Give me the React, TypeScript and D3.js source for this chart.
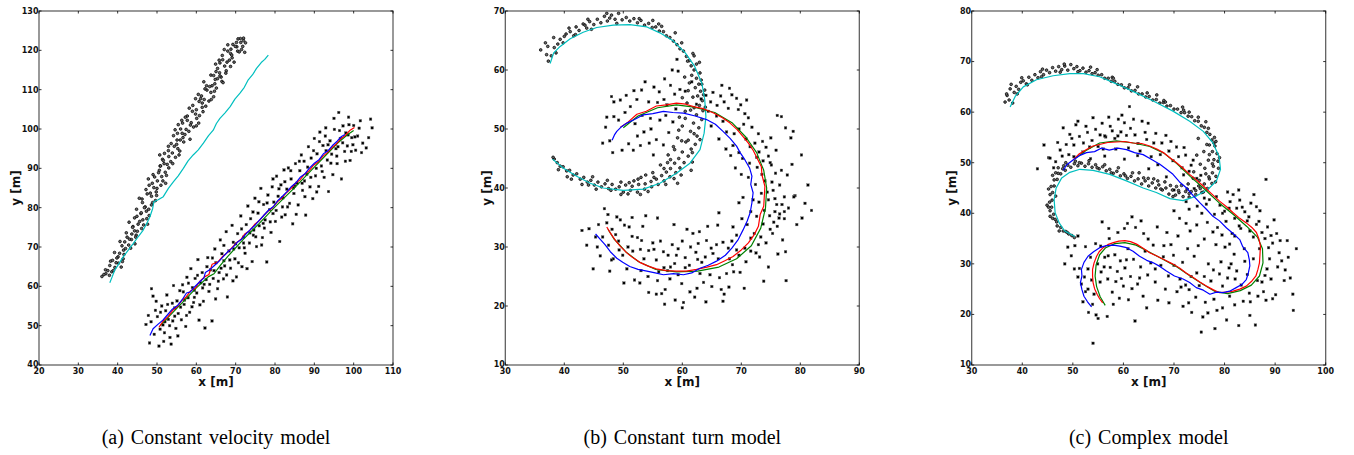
import React from "react";
import * as d3 from "d3";

type Pt = [number, number];

// ---------- panel (a): constant velocity ----------
const aTrack: Pt[] = [
  [36.0,62.5],[37.9,62.8],[37.0,63.2],[38.5,63.7],[36.9,64.2],[39.3,64.8],[38.0,65.3],[40.2,65.9],[38.2,66.4],[41.4,67.0],
  [40.1,67.5],[41.6,68.1],[39.2,68.6],[41.5,69.2],[43.3,69.7],[41.1,70.3],[44.4,70.8],[40.6,71.4],[43.5,71.9],[42.4,72.5],
  [44.7,73.0],[42.2,73.6],[44.3,74.1],[46.1,74.7],[43.9,75.2],[45.2,75.8],[42.9,76.3],[46.4,76.9],[44.3,77.4],[48.0,78.0],
  [45.9,78.5],[47.3,79.1],[44.8,79.6],[47.0,80.2],[48.6,80.7],[46.3,81.3],[49.6,81.8],[45.5,82.4],[48.6,82.9],[47.5,83.5],
  [49.8,84.0],[47.2,84.6],[49.2,85.1],[51.0,85.7],[48.8,86.2],[50.1,86.8],[47.8,87.3],[51.2,87.9],[49.0,88.4],[52.1,89.0],
  [50.6,89.5],[53.0,90.1],[50.8,90.6],[51.8,91.2],[53.5,91.7],[51.4,92.3],[54.7,92.8],[50.7,93.4],[53.9,93.9],[52.9,94.5],
  [55.3,95.0],[52.9,95.6],[55.0,96.1],[56.8,96.7],[55.1,97.2],[56.6,97.8],[54.2,98.3],[56.4,98.9],[58.1,99.4],[56.0,100.0],
  [59.3,100.5],[55.4,101.1],[58.7,101.6],[57.7,102.2],[60.1,102.7],[57.7,103.3],[59.8,103.8],[61.7,104.4],[60.0,104.9],[61.5,105.5],
  [59.1,106.0],[61.5,106.6],[63.2,107.1],[61.1,107.7],[64.4,108.2],[60.5,108.8],[63.7,109.3],[62.7,109.9],[65.1,110.4],[62.6,111.0],
  [64.7,111.5],[66.5,112.1],[64.8,112.6],[66.3,113.2],[63.7,113.7],[65.9,114.3],[67.6,114.8],[65.4,115.4],[68.7,115.9],[64.9,116.5],
  [67.8,117.0],[66.7,117.6],[69.1,118.1],[66.6,118.7],[68.7,119.2],[70.5,119.8],[68.8,120.3],[70.3,120.9],[68.0,121.4],[70.2,122.0],
  [72.0,122.5],[71.2,123.0],[72.3,119.5],[71.8,121.0],[72.0,123.1],
  [37.5,64.0],[39.8,67.2],[40.9,64.9],[42.0,69.6],[43.0,72.0],[44.6,72.5],[45.6,76.5],[47.4,77.2],[46.8,80.0],[48.3,83.7],
  [50.0,84.9],[49.4,87.8],[50.9,90.6],[52.4,88.2],[53.0,93.0],[54.4,95.6],[55.8,94.4],[55.2,98.9],[57.4,99.9],[58.4,97.4],
  [57.2,103.0],[59.0,104.5],[60.6,101.5],[60.7,107.0],[62.4,105.8],[62.2,110.2],[64.0,111.0],[63.8,107.5],[65.4,112.8],[66.8,111.8],
  [66.0,116.8],[67.5,114.2],[68.0,119.8],[69.6,117.0],[69.3,121.5],[70.9,119.6],[71.3,122.0],[43.8,75.0],[46.0,78.7],[51.6,92.0],
  [56.5,101.5],[61.3,108.4],[65.0,114.6],[41.8,71.3],[38.7,66.6],
  [36.5,63.0],[38.9,64.0],[39.6,66.0],[40.5,68.4],[41.2,66.3],[42.8,70.5],[43.6,73.3],[45.0,74.0],[44.9,77.8],[46.6,75.6],
  [47.9,79.6],[46.2,82.2],[48.9,81.3],[49.9,83.1],[48.0,85.7],[50.4,88.9],[51.5,86.8],[52.6,91.0],[51.9,93.8],[54.0,91.2],
  [53.6,96.3],[55.9,97.2],[54.6,99.8],[57.1,98.6],[58.5,101.0],[56.3,102.2],[58.2,105.3],[60.8,103.4],[59.8,107.7],[62.0,107.5],
  [61.9,112.0],[63.4,110.8],[64.6,109.6],[64.4,113.6],[66.0,113.5],[65.8,117.5],[67.2,116.0],[68.4,117.5],[67.1,120.2],[69.9,121.0],
  [70.6,122.9],[71.5,120.2],[72.5,121.9],[69.0,118.8],[60.0,100.8],[55.6,93.4],[52.2,86.2],[47.6,75.8],
];
const aMeas: Pt[] = [
  [47.2,50.3],[47.8,52.6],[48.1,45.6],[48.5,51.0],[48.6,59.4],[49.0,57.5],[49.3,47.8],[49.6,53.9],[50.1,52.3],[50.5,44.8],
  [50.8,49.1],[51.2,55.0],[51.5,50.2],[51.9,48.2],[52.2,53.8],[52.5,57.8],[52.9,51.6],[53.3,47.0],[53.6,45.3],[53.9,55.7],
  [54.2,60.2],[54.5,52.4],[54.8,49.3],[55.1,56.3],[55.4,53.1],[55.8,58.9],[56.2,51.5],[56.5,60.4],[56.9,55.4],[57.3,49.8],
  [57.6,62.3],[57.9,57.1],[58.3,53.4],[58.6,64.5],[59.0,59.7],[59.3,55.9],[59.7,62.0],[60.1,58.3],[60.4,66.8],[60.7,51.4],
  [61.1,60.9],[61.5,63.5],[61.8,56.2],[62.2,49.4],[62.5,61.7],[62.9,67.3],[63.2,58.7],[63.6,64.2],[64.0,51.2],[64.3,62.0],
  [64.7,69.5],[65.0,66.0],[65.4,59.4],[65.8,63.5],[66.1,71.8],[66.5,68.3],[66.9,61.9],[67.2,65.2],[67.6,73.9],[67.9,57.3],
  [68.3,69.0],[68.7,64.6],[69.1,75.5],[69.4,71.2],[69.8,67.0],[70.2,62.4],[70.5,73.4],[70.9,69.8],[71.3,77.9],[71.6,65.0],
  [72.0,72.5],[72.4,68.4],[72.7,75.7],[73.1,80.4],[73.5,71.0],[73.8,77.2],[74.2,66.3],[74.6,74.3],[74.9,82.4],[75.3,70.1],
  [75.7,78.6],[76.0,75.4],[76.4,84.9],[76.8,72.4],[77.1,80.8],[77.5,76.9],[77.9,66.2],[78.2,83.2],[78.6,79.5],[79.0,73.7],
  [79.3,85.3],[79.7,81.4],[80.1,76.5],[80.4,88.0],[80.8,82.9],[81.2,71.4],[81.5,85.8],[81.9,80.2],[82.3,89.6],[82.6,78.2],
  [83.0,84.7],[83.4,90.1],[83.7,81.1],[84.1,87.3],[84.5,75.9],[84.8,83.6],[85.2,91.2],[85.6,86.2],[85.9,80.7],[86.3,89.4],
  [86.7,93.4],[87.0,84.4],[87.4,91.8],[87.8,78.1],[88.1,88.5],[88.5,95.5],[88.9,85.3],[89.2,92.6],[89.6,82.3],[90.0,97.6],
  [90.3,88.1],[90.7,93.7],[91.1,85.4],[91.4,99.2],[91.8,90.6],[92.2,95.8],[92.5,87.7],[92.9,100.3],[93.3,92.1],[93.6,84.1],
  [94.0,97.0],[94.4,93.6],[94.7,88.4],[95.1,99.9],[95.5,95.0],[95.8,91.2],[96.2,104.2],[96.6,97.6],[96.9,87.3],[97.3,100.8],
  [97.7,94.3],[98.0,99.0],[98.4,95.7],[98.8,101.1],[99.1,92.0],[99.5,97.8],[100.0,100.9],[100.5,94.6],[101.0,98.2],[101.7,102.1],
  [102.3,96.4],[103.2,95.2],[103.8,97.8],[104.3,102.5],[104.7,100.3],[99.8,96.0],[98.6,98.5],[96.0,95.5],[93.0,94.5],[90.5,90.0],
  [87.5,86.8],[85.0,85.5],[82.0,82.5],[79.5,78.5],[77.0,76.0],[74.5,73.0],[72.0,71.0],[69.5,69.5],[67.0,66.5],[64.5,64.0],
  [62.0,60.5],[59.5,59.0],[57.0,56.5],[54.5,54.5],[52.0,51.0],
  [49.8,56.2],[50.9,53.4],[51.7,46.0],[52.7,55.4],[53.2,50.0],[54.0,51.2],[55.3,47.4],[56.0,54.7],[56.7,58.6],[57.5,52.6],
  [58.0,60.8],[58.9,54.8],[59.5,57.2],[60.3,62.8],[60.9,55.3],[61.6,59.6],[62.7,65.0],[63.4,60.5],[64.1,67.2],[64.9,56.8],
  [65.6,61.3],[66.3,64.6],[67.0,70.4],[67.7,62.9],[68.5,66.7],[69.3,61.4],[70.0,70.8],[70.7,66.0],[71.5,74.6],[72.2,69.8],
  [72.9,64.5],[73.6,73.6],[74.4,78.9],[75.1,72.6],[75.9,81.5],[76.6,70.5],[77.3,74.8],[78.0,81.2],[78.8,76.4],[79.5,87.3],
  [80.3,79.3],[81.0,84.8],[81.7,77.6],[82.5,86.6],[83.2,80.2],[84.0,89.4],[84.7,85.0],[85.4,78.3],[86.2,91.8],[86.9,86.2],
  [87.6,82.8],[88.3,90.3],[89.1,87.7],[89.8,94.5],[90.6,84.0],[91.3,96.8],[92.0,89.2],[92.8,98.2],[93.5,96.0],[94.2,91.3],
  [95.0,102.7],[95.7,93.1],[96.4,99.6],[97.2,96.5],[97.9,91.8],[98.7,103.0],[99.4,94.3],[100.3,98.0],[101.4,100.2],[102.0,94.0],
];
const aCyan: Pt[] = [
  [38.0,60.9],[38.6,62.4],[39.3,64.2],[40.3,65.7],[41.4,67.5],[42.6,69.1],[44.0,70.9],[45.2,72.6],[46.5,74.3],[47.4,76.0],
  [48.2,77.7],[48.9,79.8],[49.2,81.5],[50.3,82.0],[51.6,82.8],[52.9,84.9],[54.2,86.6],[55.4,88.1],[56.7,90.0],[57.9,91.9],
  [59.2,93.4],[60.5,94.7],[61.8,96.4],[63.1,98.3],[64.3,99.7],[65.1,101.4],[66.0,102.7],[67.3,104.1],[68.6,105.7],[69.8,107.6],
  [71.1,109.1],[72.2,110.6],[73.2,112.5],[74.3,113.8],[75.3,115.4],[76.5,116.9],[77.4,117.7],[78.3,118.8],
];
const aBlue: Pt[] = [
  [48.2,47.5],[49.0,49.2],[50.3,50.4],[51.5,51.4],[52.8,52.9],[53.9,54.2],[55.2,55.1],[56.4,56.6],[57.5,58.3],[58.5,58.6],
  [59.6,59.9],[60.8,61.1],[61.9,62.1],[62.3,63.5],[63.5,64.3],[64.6,65.3],[65.8,66.4],[66.9,67.6],[68.0,68.8],[69.3,69.9],
  [70.5,71.3],[71.4,71.9],[72.6,73.3],[73.8,74.5],[75.0,75.6],[76.1,76.9],[77.3,78.2],[78.4,79.4],[79.6,80.3],[80.7,81.8],
  [81.9,82.9],[83.0,84.0],[84.2,85.4],[85.4,86.4],[86.5,87.8],[87.7,88.7],[88.8,90.1],[90.0,91.3],[91.2,92.2],[92.3,93.7],
  [93.5,94.5],[94.6,95.8],[95.8,96.9],[96.9,98.1],[97.8,98.6],
];
const aRed: Pt[] = [
  [50.5,49.6],[51.6,51.2],[52.8,52.3],[54.0,53.9],[55.1,54.8],[56.3,56.4],[57.4,57.3],[58.6,58.9],[59.8,59.6],[60.9,61.3],
  [62.1,62.4],[63.2,63.0],[64.0,65.6],[65.5,66.2],[66.6,67.5],[67.8,68.5],[69.0,69.8],[70.1,71.0],[71.3,71.9],[72.4,73.4],
  [73.6,74.2],[74.8,75.7],[75.9,76.6],[77.1,78.0],[78.2,79.1],[79.4,80.0],[80.6,81.5],[81.7,82.4],[82.9,83.8],[84.0,84.8],
  [85.2,86.2],[86.4,87.1],[87.5,88.5],[88.7,89.4],[89.8,90.8],[91.0,91.7],[92.2,93.1],[93.3,94.0],[94.5,95.3],[95.6,96.2],
  [96.8,97.6],[98.0,98.5],[99.1,99.7],[100.2,100.4],
];
const aGreen: Pt[] = [
  [50.8,50.0],[56.0,55.4],[60.0,59.6],[63.0,62.4],[64.5,63.2],[66.0,65.2],[68.0,67.6],[72.0,72.0],[76.0,76.0],[80.0,80.2],
  [85.0,85.1],[90.0,90.3],[96.0,96.5],[98.5,98.6],[100.0,99.6],
];

// ---------- panel (b): constant turn ----------
const bTrack: Pt[] = [
  [36.0,63.4],[37.0,62.6],[37.3,61.5],[37.8,62.4],[38.3,63.8],[38.9,64.4],[38.6,62.9],[39.3,65.2],[39.8,64.6],[40.3,66.1],
  [41.0,66.5],[41.6,65.8],[42.0,67.3],[42.5,66.7],[43.2,67.8],[43.8,67.1],[44.3,68.2],[45.0,67.7],[45.6,68.6],[46.2,68.0],
  [46.8,69.1],[47.3,68.3],[48.0,69.3],[48.6,68.6],[49.2,69.6],[49.8,68.5],[50.5,68.9],[51.1,68.3],[51.8,68.7],[52.4,68.0],
  [53.0,68.4],[53.6,67.6],[54.3,67.9],[54.9,67.2],[55.5,67.3],[56.1,66.6],[56.8,66.5],[57.3,65.8],[57.9,65.5],[58.5,64.9],
  [59.1,64.3],[59.6,63.6],[60.2,63.2],[60.7,62.3],[61.2,61.6],[61.5,60.7],[62.0,60.0],[61.6,59.1],[62.4,58.6],[62.8,57.6],
  [62.2,57.0],[63.1,56.4],[62.6,55.6],[63.4,54.8],[62.9,54.0],[61.8,55.4],[63.5,53.1],[62.4,52.4],[63.3,51.6],[61.9,51.0],
  [62.8,50.2],[61.4,49.6],[62.5,48.8],[61.0,48.1],[62.2,47.4],[60.6,47.8],[61.5,46.6],[60.0,46.1],[61.0,45.4],[59.4,45.0],
  [60.3,44.3],[58.7,44.2],[59.6,43.4],[58.0,43.3],[58.9,42.6],[57.3,42.7],[57.9,41.9],[56.5,42.1],[56.9,41.2],[55.6,41.5],
  [55.9,40.6],[54.7,41.1],[54.8,40.2],[53.7,40.7],[53.6,39.8],[52.6,40.6],[52.4,39.3],[51.5,40.3],[51.2,39.6],[50.4,40.5],
  [50.0,39.3],[49.3,40.2],[48.7,39.8],[48.1,40.6],[47.5,39.9],[46.9,40.7],[46.3,40.2],[45.7,41.0],[45.1,40.5],[44.5,41.3],
  [43.9,41.0],[43.3,41.8],[42.7,41.5],[42.1,42.4],[41.5,42.2],[40.9,43.0],[40.4,42.9],[39.8,43.6],[39.3,43.7],[38.8,44.3],
  [38.3,44.9],[38.1,45.2],[58.5,47.0],[59.2,48.5],[57.6,45.6],[60.0,50.5],[60.5,53.0],[59.5,52.0],[61.0,56.5],[60.4,58.8],
  [61.2,57.8],[58.0,44.8],[56.3,43.9],[55.0,42.6],[53.8,42.2],[52.5,41.5],[60.9,61.5],[62.0,62.4],[63.0,59.5],[63.3,57.6],
  [50.8,39.0],[52.9,38.9],[49.6,41.0],[44.8,41.9],[41.9,66.0],[44.6,66.9],[48.9,67.9],
  [60.0,55.3],[60.8,54.4],[59.4,49.8],[60.5,51.8],[58.7,46.5],[59.9,48.0],[57.5,44.3],[61.4,53.2],[62.0,49.2],[61.7,44.4],
  [63.8,56.6],[63.9,53.7],[62.9,61.3],[61.8,62.8],[63.2,58.3],[55.0,68.4],[56.5,67.4],[58.8,66.3],[47.2,69.6],[44.0,68.6],
  [40.8,67.1],[38.2,65.5],[36.8,64.6],[53.0,41.8],[51.8,41.2],[49.6,38.9],[47.3,41.3],[45.4,39.8],[43.0,40.6],[40.5,41.9],
  [56.9,43.3],[54.2,39.4],[58.6,41.6],[61.5,43.0],[59.2,40.8],
  [37.2,64.0],[40.0,65.7],[43.5,67.6],[47.7,68.8],[52.7,68.7],[56.0,67.8],[59.9,64.6],[62.4,61.0],[63.6,55.8],[62.0,53.6],
  [63.0,48.2],[61.7,46.0],[59.8,42.2],[57.2,40.6],[55.2,41.8],[51.0,40.9],[47.9,39.6],[44.1,40.5],[41.2,41.5],[39.0,43.1],
];
const bMeas: Pt[] = [
  [48.0,55.5],[48.4,54.6],[49.5,54.9],[50.5,55.7],[51.8,56.5],[52.3,55.0],[53.1,56.6],[53.7,58.0],[54.3,54.6],[55.2,57.1],
  [56.1,56.3],[55.8,54.5],[56.9,55.0],[57.4,54.1],[48.4,52.1],[47.7,48.0],[48.2,46.0],[49.2,51.5],[50.9,47.5],[51.7,46.4],
  [52.4,48.8],[53.5,49.5],[54.4,47.6],[55.6,48.2],[56.8,47.3],[57.7,49.4],[58.4,51.2],[56.2,51.5],[54.6,51.8],[53.2,52.3],
  [52.0,50.9],[50.3,52.8],[46.5,47.6],[47.2,52.0],[58.9,53.4],[59.6,56.7],[58.0,57.4],[57.0,58.5],[59.3,59.8],[58.3,60.0],
  [59.1,61.8],[63.2,55.1],[64.0,55.7],[64.8,54.6],[65.2,56.2],[66.5,55.6],[67.1,54.6],[67.8,53.5],[68.4,55.8],[69.2,55.2],
  [69.9,54.1],[70.6,52.6],[71.2,51.9],[70.4,50.8],[69.6,50.0],[68.8,49.2],[67.5,49.5],[66.9,51.3],[65.8,52.2],[64.9,50.5],
  [66.2,48.3],[67.4,46.6],[68.6,47.2],[69.6,46.0],[70.8,48.3],[71.5,47.0],[72.3,47.6],[73.0,46.1],[72.6,45.2],[73.7,44.6],
  [74.2,46.9],[75.0,48.5],[76.1,52.3],[76.8,52.1],[77.5,50.2],[78.4,48.5],[78.8,49.6],[80.2,45.6],[74.6,45.4],[70.2,45.0],
  [71.4,44.2],[72.7,43.5],[73.5,42.3],[74.0,41.2],[75.1,43.9],[75.8,42.5],[76.5,40.5],[75.4,39.6],[74.6,38.0],[73.4,39.1],
  [72.4,40.6],[71.2,41.8],[70.3,38.4],[69.6,37.5],[71.6,36.0],[72.6,35.2],[73.9,36.2],[74.8,35.3],[75.7,36.0],[76.4,34.9],
  [77.3,36.0],[76.1,33.5],[77.3,34.8],[75.3,32.3],[74.2,30.7],[73.3,31.7],[72.2,32.3],[71.0,33.8],[70.1,34.8],[69.2,32.0],
  [68.6,33.4],[70.6,29.8],[71.6,29.3],[72.5,29.0],[73.1,28.3],[77.5,29.2],[77.6,24.3],[79.1,38.7],[78.9,38.5],[81.3,40.5],
  [81.9,36.2],[80.8,37.4],[77.3,38.5],[76.0,37.2],[72.0,38.0],[70.0,42.3],[69.0,43.4],[68.2,45.5],[44.9,26.3],[45.6,30.0],
  [46.5,31.7],[47.2,34.1],[48.1,33.0],[48.9,35.1],[49.5,34.6],[50.2,33.7],[51.0,33.4],[49.2,31.0],[48.3,28.0],[48.0,27.8],
  [49.9,28.6],[50.8,30.0],[51.6,29.3],[51.9,24.4],[52.4,31.6],[53.1,31.1],[53.5,28.0],[52.8,23.9],[54.3,29.4],[55.0,30.7],
  [55.6,27.8],[56.3,31.0],[56.8,29.2],[56.5,22.1],[57.1,22.8],[57.6,28.6],[58.3,30.4],[58.0,26.6],[58.7,27.2],[59.3,29.7],
  [59.9,23.8],[60.2,20.6],[60.0,19.7],[60.5,28.2],[61.2,26.9],[61.8,32.3],[62.3,29.1],[62.7,30.6],[63.3,27.4],[63.6,24.0],
  [64.1,31.1],[64.7,25.3],[64.0,20.7],[65.2,28.9],[65.8,30.4],[66.3,24.8],[66.6,22.8],[67.1,22.0],[67.5,25.5],[68.0,28.0],
  [68.5,27.0],[69.2,29.5],[69.8,25.7],[67.8,29.8],[66.9,30.8],[62.9,32.6],[60.8,33.0],[58.6,33.8],[55.8,34.9],[53.8,35.3],
  [51.5,35.0],[46.8,36.5],[44.2,33.1],[43.0,32.8],[43.8,30.3],[45.3,31.7],[47.7,25.9],[50.1,23.9],[54.3,22.3],[55.6,22.0],
  [61.3,22.4],[62.5,23.0],[58.8,21.0],[64.3,33.5],[66.0,33.7],[65.0,23.3],[63.0,25.5],[56.0,25.8],[57.5,26.0],[59.3,25.3],
  [60.5,26.5],[53.0,26.0],[55.8,24.3],
  [47.0,50.3],[49.8,46.4],[51.2,53.8],[52.9,47.2],[54.7,50.0],[55.1,45.6],[57.2,52.3],[58.7,55.9],[60.5,56.4],[61.6,58.0],
  [62.4,54.2],[64.4,53.0],[65.9,54.0],[66.7,57.4],[68.0,56.9],[69.5,53.3],[70.9,54.9],[71.8,50.3],[72.9,49.2],[73.6,47.9],
  [74.9,44.3],[75.9,46.4],[76.8,43.0],[77.8,42.2],[78.6,44.0],[75.2,41.0],[74.4,39.3],[73.0,37.6],[75.7,38.2],[76.9,37.2],
  [78.0,36.6],[76.5,35.6],[75.5,34.2],[74.9,33.0],[73.7,33.9],[72.9,30.4],[71.6,31.5],[70.8,27.5],[69.6,28.6],[68.7,25.8],
  [67.9,23.2],[66.1,28.0],[64.9,29.8],[63.9,28.3],[62.6,27.9],[61.4,30.0],[60.0,31.0],[59.0,28.6],[57.9,24.6],[56.9,26.5],
  [55.2,29.6],[54.2,25.0],[52.9,29.6],[51.5,31.8],[50.6,26.3],[49.3,29.5],[48.7,32.1],[47.5,30.3],[46.1,28.5],[45.8,33.8],
  [47.4,35.5],[53.3,33.5],[66.2,35.8],[68.4,31.0],[79.4,33.8],[80.3,34.9],[77.0,31.2],[76.2,28.8],[74.6,26.6],[73.8,24.2],
  [70.5,23.0],[66.9,20.8],[62.1,21.5],[57.0,20.3],
];
const bCyan: Pt[] = [
  [37.6,61.1],[38.2,62.9],[39.3,64.0],[41.0,65.3],[43.2,66.4],[45.5,67.2],[48.3,67.6],[51.1,67.7],[54.0,67.3],[56.2,66.3],
  [58.5,64.9],[60.5,62.9],[62.1,60.6],[63.3,57.8],[63.8,55.0],[64.0,52.1],[63.7,49.3],[63.0,46.5],[61.3,44.2],[59.0,42.5],
  [56.2,40.8],[53.4,39.8],[50.0,39.6],[46.6,40.0],[44.4,40.8],[42.1,42.0],[39.8,43.4],[38.0,44.9],
];
const bBlue: Pt[] = [
  [48.1,48.1],[48.5,49.0],[48.9,49.6],[49.7,50.4],[50.6,51.0],[51.9,51.6],[53.4,52.4],[55.0,52.6],[56.8,53.0],[58.4,52.8],
  [60.2,52.7],[62.2,52.2],[64.1,51.6],[65.6,50.8],[66.9,49.6],[68.1,48.4],[69.2,47.1],[69.8,46.0],[70.6,44.8],[71.4,43.4],
  [71.8,42.0],[71.6,40.6],[72.0,39.2],[71.8,37.5],[71.5,35.8],[71.0,34.4],[70.3,32.9],[69.5,31.3],[68.4,29.8],[67.3,28.6],
  [65.8,27.6],[64.4,26.9],[63.0,26.4],[61.6,25.6],[60.2,25.3],[58.5,25.5],[56.8,25.3],[55.4,25.6],[54.0,25.9],[52.5,26.2],
  [51.1,26.7],[49.9,27.4],[48.9,28.1],[47.8,29.2],[46.9,30.4],[46.1,31.3],[45.3,32.2],
];
const bRed: Pt[] = [
  [49.5,50.3],[50.6,51.0],[52.3,52.5],[53.9,53.0],[55.6,53.9],[57.3,54.1],[59.0,54.4],[60.6,54.2],[61.9,53.8],[63.7,53.4],
  [65.3,52.7],[66.8,51.9],[68.1,51.0],[69.3,49.9],[70.3,48.7],[71.2,47.6],[72.0,46.4],[72.6,45.2],[73.4,43.6],[73.5,42.2],
  [74.0,40.3],[73.9,38.6],[73.8,36.9],[73.2,35.5],[72.9,33.5],[72.2,32.1],[71.2,30.7],[70.0,29.5],[68.6,28.4],[67.3,27.7],
  [65.8,27.0],[64.2,26.6],[62.4,26.2],[60.7,25.9],[59.0,25.9],[57.3,26.0],[55.6,26.3],[54.1,26.8],[52.8,27.4],[51.6,28.2],
  [50.6,29.0],[49.5,30.1],[48.6,31.2],[47.8,32.4],[47.2,33.4],
];
const bGreen: Pt[] = [
  [50.0,50.2],[52.5,52.2],[55.8,53.6],[59.0,54.1],[62.0,53.7],[65.5,52.8],[68.5,51.0],[70.8,48.6],[72.6,46.0],[73.8,43.0],
  [74.3,40.0],[74.1,36.6],[73.3,33.2],[71.7,30.2],[69.2,28.0],[66.2,26.6],[62.6,25.9],[59.0,25.8],[55.5,26.2],[52.6,27.5],
  [50.4,29.2],[48.4,31.4],[47.4,33.0],
];

// ---------- panel (c): complex ----------
const cTrack: Pt[] = [
  [36.6,62.0],[37.0,63.3],[37.4,62.4],[37.6,64.6],[38.1,61.8],[38.4,63.9],[38.8,65.1],[39.3,64.5],[39.7,65.9],[40.2,66.2],
  [40.8,65.6],[41.3,66.9],[41.9,66.3],[42.5,67.4],[43.1,66.8],[43.6,68.0],[44.2,67.4],[44.8,68.3],[45.4,67.8],[46.0,68.8],
  [46.6,68.1],[47.2,69.0],[47.8,68.4],[48.4,69.1],[49.0,68.3],[49.6,69.4],[50.2,68.6],[50.8,69.0],[51.4,68.2],[52.0,68.7],
  [52.6,67.9],[53.2,68.2],[53.8,67.6],[54.4,67.8],[55.0,67.3],[55.7,67.4],[56.3,66.7],[57.0,66.7],[57.6,66.1],[58.3,66.1],
  [58.9,65.5],[59.6,65.4],[60.2,64.8],[60.9,64.8],[61.6,64.2],[62.3,64.3],[63.0,63.6],[63.7,63.6],[64.4,63.0],[65.1,63.1],
  [65.8,62.4],[66.5,62.5],[67.2,61.8],[67.9,61.9],[68.6,61.2],[69.3,61.3],[70.0,60.6],[70.7,60.6],[71.4,59.9],[72.1,59.9],
  [72.8,59.2],[73.5,59.1],[74.1,58.3],[74.8,58.2],[75.4,57.3],[76.0,57.0],[76.5,56.0],[77.1,55.6],[77.5,54.5],[77.0,53.5],
  [78.1,53.3],[77.6,52.2],[78.5,51.8],[77.9,50.6],[78.7,50.3],[77.8,49.3],[78.8,48.9],[77.6,48.0],[78.3,47.3],[77.0,46.8],
  [77.5,45.9],[76.0,45.8],[76.6,44.9],[75.2,44.9],[75.5,44.1],[74.3,44.5],[74.3,43.7],[73.4,44.3],[73.0,43.2],[72.3,44.3],
  [71.8,43.3],[71.0,44.1],[70.3,43.6],[69.7,44.6],[69.0,43.8],[68.4,45.0],[67.7,44.6],[67.0,45.6],[66.4,45.0],[65.7,46.0],
  [65.0,45.4],[64.3,46.4],[63.6,45.8],[62.9,46.8],[62.2,46.4],[61.5,47.3],[60.8,46.9],[60.1,47.8],[59.4,47.4],[58.7,48.3],
  [58.0,47.9],[57.3,48.7],[56.6,48.4],[55.9,49.2],[55.2,48.8],[54.5,49.6],[53.8,49.1],[53.1,49.8],[52.4,49.3],[51.7,49.9],
  [51.0,49.4],[50.3,49.8],[49.6,49.1],[49.0,49.5],[48.5,48.5],[48.0,48.8],[47.6,47.8],[47.1,47.9],[46.9,46.7],[46.3,46.6],
  [46.3,45.4],[45.7,45.3],[46.0,44.1],[45.5,43.7],[45.9,42.6],[45.4,42.2],[45.8,41.2],[45.5,40.5],[46.2,39.8],[46.0,39.0],
  [46.8,38.3],[46.9,37.5],[47.6,37.2],[48.1,36.5],[48.6,36.4],[49.2,35.9],[49.8,35.6],[50.3,35.2],[75.0,46.5],[76.3,47.8],
  [76.8,50.5],[75.9,52.2],[76.5,53.6],[74.8,54.8],[73.9,48.2],[75.2,49.7],[74.5,51.5],[71.5,45.5],[72.8,45.8],[73.8,46.9],
  [68.2,46.2],[70.5,45.3],[66.0,46.8],[63.1,48.0],
  [78.0,55.0],[77.9,53.9],[77.0,51.6],[77.6,49.8],[76.1,48.9],[76.9,47.2],[74.9,45.4],[72.6,44.8],[70.9,44.5],[69.3,45.5],
  [66.8,46.4],[64.9,46.9],[61.8,48.0],[59.0,49.0],[56.3,49.6],[53.2,50.4],[50.5,50.3],[48.6,50.0],[47.1,49.0],[46.0,47.5],
  [45.2,44.8],[44.9,41.6],[45.5,39.4],[47.3,36.5],[76.3,58.1],[73.0,60.0],[68.0,62.3],[62.8,65.0],[57.8,66.9],[53.5,68.9],
  [48.3,69.5],[44.0,68.5],[39.9,66.8],[37.8,65.5],[36.9,63.6],[71.7,61.0],[66.6,63.4],
  [39.0,63.6],[41.0,65.4],[43.8,67.0],[47.5,67.9],[51.0,68.0],[54.8,68.4],[58.0,66.7],[61.2,65.4],[64.7,63.8],[68.3,62.0],
  [71.9,60.4],[74.8,59.0],[76.8,56.8],[78.3,54.2],[79.0,51.0],[78.2,46.2],[75.8,44.2],[73.0,43.9],[69.8,43.3],[67.4,44.8],
  [64.0,47.0],[60.4,47.4],[57.6,48.0],[54.8,49.0],[51.3,50.0],[48.2,49.4],[46.6,48.0],[46.6,43.4],[45.2,41.2],[46.5,38.8],
  [48.9,36.2],
];
const cMeas: Pt[] = [
  [43.0,48.8],[45.2,51.0],[45.5,50.9],[47.5,52.5],[48.1,56.9],[49.4,55.6],[50.2,53.5],[50.6,57.5],[51.3,55.2],[52.1,53.9],
  [52.9,56.0],[52.0,52.1],[53.8,54.4],[54.5,56.6],[55.0,53.2],[55.8,57.8],[56.5,55.1],[57.1,59.0],[57.8,56.3],[58.3,54.8],
  [59.0,58.6],[59.5,56.1],[60.2,57.9],[60.6,55.4],[61.0,52.9],[62.3,55.5],[62.9,53.8],[63.7,58.2],[64.9,57.8],[64.3,56.0],
  [61.2,61.1],[56.3,55.3],[49.2,51.6],[47.0,54.0],[50.2,51.2],[53.5,50.8],[56.3,51.3],[58.5,52.7],[60.2,50.7],[62.8,51.4],
  [65.5,51.2],[46.6,50.2],[48.7,53.6],[66.0,53.9],[67.3,51.6],[68.4,55.4],[69.0,52.3],[69.8,50.4],[70.5,53.1],[71.6,49.0],
  [72.3,51.5],[71.9,47.6],[73.0,48.3],[73.8,50.5],[74.5,46.9],[75.3,47.5],[66.8,49.6],[65.0,48.8],[68.5,47.2],[70.0,44.6],
  [72.4,42.3],[73.0,40.8],[74.6,41.4],[75.5,40.0],[76.4,41.8],[77.0,42.7],[78.0,39.8],[79.1,41.6],[80.0,40.4],[81.1,42.3],
  [81.7,43.7],[82.4,41.0],[83.0,42.6],[84.0,40.3],[85.2,42.0],[85.8,43.7],[86.3,41.3],[88.2,46.7],[80.6,44.2],[82.8,44.6],
  [80.3,38.4],[78.6,37.2],[77.7,36.3],[76.6,38.2],[74.5,37.7],[73.2,36.5],[72.4,38.0],[71.1,39.0],[70.0,40.5],[79.5,35.7],
  [81.0,33.9],[82.0,35.5],[83.2,37.0],[84.5,38.5],[85.7,35.3],[86.3,37.8],[87.4,36.2],[88.0,35.0],[88.7,33.2],[89.5,34.1],
  [89.8,38.7],[90.3,36.0],[91.0,34.6],[92.4,34.6],[94.2,33.0],[92.6,31.3],[93.0,27.2],[93.5,24.0],[91.3,30.6],[90.5,29.4],
  [89.2,27.0],[88.4,29.0],[87.7,24.5],[88.2,22.8],[89.5,23.1],[93.6,20.8],[91.8,26.7],[90.1,23.9],[51.7,26.0],[51.3,29.1],
  [52.3,27.4],[52.0,22.5],[53.0,25.0],[53.1,20.4],[53.7,26.8],[54.2,24.0],[54.6,19.9],[55.0,19.2],[54.0,14.3],[54.9,30.0],
  [55.6,28.4],[56.3,31.3],[56.9,27.0],[57.4,29.3],[57.8,24.4],[58.3,31.8],[58.8,28.5],[59.4,30.6],[58.0,22.0],[60.0,25.6],
  [60.3,29.2],[60.9,33.0],[61.4,27.5],[62.0,30.9],[62.3,18.7],[62.8,26.0],[63.4,29.4],[63.9,23.6],[64.3,32.5],[64.8,27.8],
  [65.4,30.2],[65.9,33.7],[66.3,26.4],[66.8,22.8],[67.4,29.7],[67.9,31.4],[68.3,25.0],[68.9,27.6],[69.4,33.8],[70.0,29.7],
  [70.6,24.5],[71.2,27.0],[71.7,30.3],[72.3,25.8],[72.9,22.3],[73.4,27.5],[74.0,31.5],[74.5,28.2],[75.0,25.7],[75.4,16.5],
  [75.7,19.5],[76.2,22.4],[76.8,30.0],[77.3,26.6],[77.9,23.0],[78.1,17.2],[78.5,20.8],[79.0,28.0],[79.6,25.6],[80.1,33.3],
  [80.6,27.2],[81.3,30.0],[82.0,21.9],[82.4,28.6],[82.8,17.8],[83.3,25.8],[83.9,33.0],[84.5,27.9],[85.0,19.8],[85.1,22.5],
  [86.1,17.9],[86.5,26.7],[85.7,31.0],[82.9,37.5],[81.5,36.0],[78.3,33.8],[76.0,34.9],[74.8,33.6],[72.7,33.0],[70.8,35.5],
  [68.6,36.2],[66.7,37.3],[64.0,36.0],[62.4,37.2],[60.2,37.0],[58.9,36.2],[57.2,35.0],[55.5,33.5],[54.5,34.0],[53.5,31.3],
  [52.5,33.4],[51.0,35.5],[61.7,39.3],[60.8,38.0],[63.5,38.5],[55.8,38.3],[57.1,37.0],[49.7,31.6],[48.4,30.0],[50.3,29.0],
  [49.0,33.3],[79.6,21.3],[81.0,23.6],[73.5,20.4],
  [44.3,53.5],[46.2,49.0],[47.9,51.3],[49.8,54.8],[51.0,58.2],[52.6,57.2],[53.3,53.1],[54.0,58.9],[55.4,55.5],[56.0,52.7],
  [57.4,57.2],[58.9,55.3],[59.7,59.4],[61.4,56.8],[62.0,58.6],[63.3,52.3],[64.6,54.6],[66.4,55.8],[67.6,53.9],[69.4,54.2],
  [70.9,51.2],[72.0,53.0],[73.4,49.5],[74.0,44.9],[76.0,43.0],[78.4,43.3],[79.6,40.0],[80.9,41.0],[82.0,39.0],[83.5,41.2],
  [84.8,39.3],[85.0,36.5],[86.8,38.4],[87.0,40.5],[88.5,37.3],[89.2,35.6],[88.9,31.0],[88.0,27.7],[87.4,26.4],[86.6,23.6],
  [84.9,24.2],[83.7,22.6],[82.1,27.0],[80.9,29.2],[79.3,30.4],[77.8,28.8],[76.0,27.5],[74.3,23.4],[73.0,24.9],[71.4,25.4],
  [69.9,31.7],[68.0,33.6],[66.3,29.0],[64.9,34.9],[63.2,27.2],[61.7,25.1],[60.6,30.8],[59.6,27.1],[58.5,26.5],[57.0,31.6],
  [56.2,29.4],[55.4,26.4],[53.0,29.0],[52.5,24.5],[51.0,27.4],[50.4,33.6],[53.9,22.0],[56.8,19.6],[59.2,23.2],[61.0,22.9],
  [64.6,21.3],[69.0,22.3],[71.8,21.6],[76.7,20.3],[80.4,18.9],[84.0,30.5],[90.8,32.2],[92.0,28.8],[86.9,33.0],[81.9,31.9],
];
const cCyan: Pt[] = [
  [37.6,61.0],[38.6,63.1],[40.2,65.0],[42.8,66.4],[46.1,67.2],[49.4,67.6],[52.1,67.6],[55.3,67.0],[58.6,65.6],[61.9,64.1],
  [65.9,62.2],[69.8,60.2],[73.1,58.2],[75.8,56.2],[77.7,53.9],[78.9,51.3],[79.2,48.7],[78.4,46.4],[76.7,44.7],[74.4,43.4],
  [71.8,42.5],[69.2,42.9],[66.5,44.1],[63.9,45.0],[60.6,46.4],[57.3,47.7],[54.0,48.5],[51.4,48.7],[49.4,48.1],[47.8,47.0],
  [46.7,45.0],[46.3,42.7],[46.5,40.1],[47.3,38.1],[48.4,36.5],[50.4,35.4],
];
const cBlue: Pt[] = [
  [48.1,48.5],[48.8,49.6],[50.1,50.6],[51.3,51.4],[52.7,52.0],[54.3,52.2],[55.7,52.9],[57.2,52.5],[58.9,52.9],[60.6,52.6],
  [62.2,52.0],[63.9,51.6],[65.5,50.7],[67.2,49.7],[68.4,48.8],[69.8,47.7],[71.1,46.2],[72.5,45.0],[73.8,43.5],[75.1,42.1],
  [76.5,40.7],[77.7,39.4],[79.0,38.5],[80.4,37.1],[81.8,35.9],[83.0,34.8],[83.6,33.4],[84.6,32.2],[84.9,30.8],[85.0,29.6],
  [84.7,28.2],[84.3,26.9],[83.4,25.9],[82.3,25.3],[81.0,24.6],[79.7,24.3],[78.4,24.4],[77.1,24.0],[75.8,24.8],[74.4,25.3],
  [73.1,26.3],[71.8,27.0],[70.1,27.6],[68.5,28.6],[67.2,29.5],[65.9,30.2],[64.6,30.7],[63.2,31.5],[61.9,32.5],[60.6,33.2],
  [59.3,33.5],[58.0,33.7],[56.6,33.6],[55.3,33.2],[54.1,32.4],[53.0,31.5],[52.2,30.3],[51.7,28.9],[51.8,27.6],[51.5,26.3],
  [51.8,24.9],[52.2,23.6],[52.9,22.5],[53.7,21.5],
];
const cRed: Pt[] = [
  [50.1,50.6],[51.2,51.7],[52.7,52.6],[54.0,53.3],[55.3,53.6],[56.9,54.0],[58.6,54.1],[60.3,54.2],[61.9,53.9],[63.6,53.8],
  [65.2,53.3],[66.6,52.7],[67.9,52.0],[69.2,51.0],[70.5,50.0],[71.8,48.9],[73.1,47.7],[74.5,46.5],[75.8,45.4],[77.4,43.9],
  [79.0,42.4],[80.4,41.3],[81.7,40.1],[83.0,39.0],[84.3,38.1],[85.4,37.2],[86.3,36.2],[86.8,34.9],[87.1,33.5],[87.0,31.8],
  [86.9,30.2],[86.6,28.9],[86.2,27.6],[85.3,26.5],[84.3,25.6],[83.0,25.0],[81.7,24.6],[80.3,24.4],[79.0,24.3],[77.7,24.9],
  [76.4,25.6],[75.1,26.4],[73.8,27.3],[72.4,28.2],[71.1,29.2],[69.5,30.1],[67.9,30.9],[66.5,31.6],[65.2,32.2],[63.9,33.1],
  [62.6,33.9],[61.4,34.4],[60.3,34.6],[59.1,34.5],[58.0,34.2],[56.9,33.8],[56.0,33.2],[55.2,32.4],[54.7,31.5],[54.2,30.2],
  [53.9,28.9],[53.9,27.6],[54.0,26.3],[54.3,25.1],[54.8,24.0],[55.3,23.1],[55.9,22.3],
];
const cGreen: Pt[] = [
  [50.4,50.8],[52.6,52.4],[55.3,53.9],[58.6,54.3],[62.0,53.9],[65.2,53.2],[68.0,51.9],[70.6,49.8],[73.2,47.3],[75.8,45.0],
  [79.0,42.0],[81.8,39.7],[84.4,37.4],[86.5,35.3],[87.5,33.0],[87.6,30.2],[86.9,27.6],[85.3,25.8],[83.1,24.7],[80.6,24.1],
  [78.2,24.5],[75.8,25.9],[73.2,27.6],[70.6,29.4],[67.8,30.9],[65.0,32.4],[62.5,33.7],[60.3,34.2],[58.3,34.0],[56.5,33.2],
  [55.3,31.8],[54.6,29.8],[54.4,27.6],[54.7,25.5],[55.4,23.5],[56.4,21.8],
];

const aXTicks = [20, 30, 40, 50, 60, 70, 80, 90, 100, 110];
const aYTicks = [40, 50, 60, 70, 80, 90, 100, 110, 120, 130];
const bXTicks = [30, 40, 50, 60, 70, 80, 90];
const bYTicks = [10, 20, 30, 40, 50, 60, 70];
const cXTicks = [30, 40, 50, 60, 70, 80, 90, 100];
const cYTicks = [10, 20, 30, 40, 50, 60, 70, 80];

const TOP = 11;
const SIZE = 354;

type PanelProps = {
  left: number;
  xDomain: [number, number];
  yDomain: [number, number];
  xTicks: number[];
  yTicks: number[];
  track: Pt[];
  meas: Pt[];
  cyan: Pt[];
  green: Pt[];
  red: Pt[];
  blue: Pt[];
  yLabelGap: number;
  caption: string;
};

const tickFont = { fontFamily: "DejaVu Sans", fontWeight: 700, fontSize: 8 } as const;

function Panel(p: PanelProps) {
  const x = d3.scaleLinear().domain(p.xDomain).range([p.left, p.left + SIZE]);
  const y = d3.scaleLinear().domain(p.yDomain).range([TOP + SIZE, TOP]);
  const line = d3.line<Pt>().x((d) => x(d[0])).y((d) => y(d[1]));
  const bottom = TOP + SIZE;
  const right = p.left + SIZE;
  const tl = 2.5;
  const cx = p.left + SIZE / 2;
  const id = `clip${Math.round(p.left)}`;
  const paths: [Pt[], string][] = [
    [p.cyan, "#00bfbf"],
    [p.green, "#008000"],
    [p.red, "#ff0000"],
    [p.blue, "#0000ff"],
  ];
  return (
    <g>
      <defs>
        <clipPath id={id}>
          <rect x={p.left} y={TOP} width={SIZE} height={SIZE} />
        </clipPath>
      </defs>
      <g clipPath={`url(#${id})`}>
        {p.meas.map((d, i) => (
          <rect key={"m" + i} x={x(d[0]) - 1.3} y={y(d[1]) - 1.3} width={2.6} height={2.6} fill="#000" stroke="#777" strokeWidth={0.4} />
        ))}
        {p.track.map((d, i) => (
          <circle key={"t" + i} cx={x(d[0])} cy={y(d[1])} r={1.35} fill="#6a6a6a" stroke="#000" strokeWidth={0.75} />
        ))}
        {paths.map(([pts, c], i) => (
          <path key={"l" + i} d={line(pts) || ""} fill="none" stroke={c} strokeWidth={1.2} strokeLinejoin="round" />
        ))}
      </g>
      <rect x={p.left} y={TOP} width={SIZE} height={SIZE} fill="none" stroke="#555" strokeWidth={1.2} />
      {p.xTicks.map((t) => (
        <g key={"xt" + t}>
          <line x1={x(t)} x2={x(t)} y1={bottom} y2={bottom - tl} stroke="#000" strokeWidth={0.8} />
          <line x1={x(t)} x2={x(t)} y1={TOP} y2={TOP + tl} stroke="#000" strokeWidth={0.8} />
          <text x={x(t)} y={bottom + 9} textAnchor="middle" style={tickFont} fill="#111">{t}</text>
        </g>
      ))}
      {p.yTicks.map((t, i) => (
        <g key={"yt" + t}>
          <line x1={p.left} x2={p.left + tl} y1={y(t)} y2={y(t)} stroke="#000" strokeWidth={0.8} />
          <line x1={right} x2={right - tl} y1={y(t)} y2={y(t)} stroke="#000" strokeWidth={0.8} />
          <text x={p.left - 0.5} y={y(t) + (i === 0 ? 1.6 : 2.9)} textAnchor="end" style={tickFont} fill="#111">{t}</text>
        </g>
      ))}
      <text x={cx} y={bottom + 21} textAnchor="middle" fontFamily="DejaVu Sans" fontWeight={700} fontSize={12} fill="#111">
        x [m]
      </text>
      <text
        transform={`translate(${p.left - p.yLabelGap},${TOP + SIZE / 2}) rotate(-90)`}
        textAnchor="middle"
        fontFamily="DejaVu Sans"
        fontWeight={700}
        fontSize={12}
        fill="#111"
      >
        y [m]
      </text>
      <text x={cx} y={444} textAnchor="middle" fontFamily="Liberation Serif" fontSize={20} wordSpacing={2} fill="#000">
        {p.caption}
      </text>
    </g>
  );
}

export default function App() {
  return (
    <svg width={1354} height={455} style={{ position: "absolute", left: 0, top: 0, background: "#fff" }}>
      <rect width={1354} height={455} fill="#fff" />
      <Panel left={39} xDomain={[20, 110]} yDomain={[40, 130]} xTicks={aXTicks} yTicks={aYTicks}
        track={aTrack} meas={aMeas} cyan={aCyan} green={aGreen} red={aRed} blue={aBlue}
        yLabelGap={19.5} caption="(a) Constant velocity model" />
      <Panel left={505.3} xDomain={[30, 90]} yDomain={[10, 70]} xTicks={bXTicks} yTicks={bYTicks}
        track={bTrack} meas={bMeas} cyan={bCyan} green={bGreen} red={bRed} blue={bBlue}
        yLabelGap={14.5} caption="(b) Constant turn model" />
      <Panel left={971.7} xDomain={[30, 100]} yDomain={[10, 80]} xTicks={cXTicks} yTicks={cYTicks}
        track={cTrack} meas={cMeas} cyan={cCyan} green={cGreen} red={cRed} blue={cBlue}
        yLabelGap={15.5} caption="(c) Complex model" />
    </svg>
  );
}
